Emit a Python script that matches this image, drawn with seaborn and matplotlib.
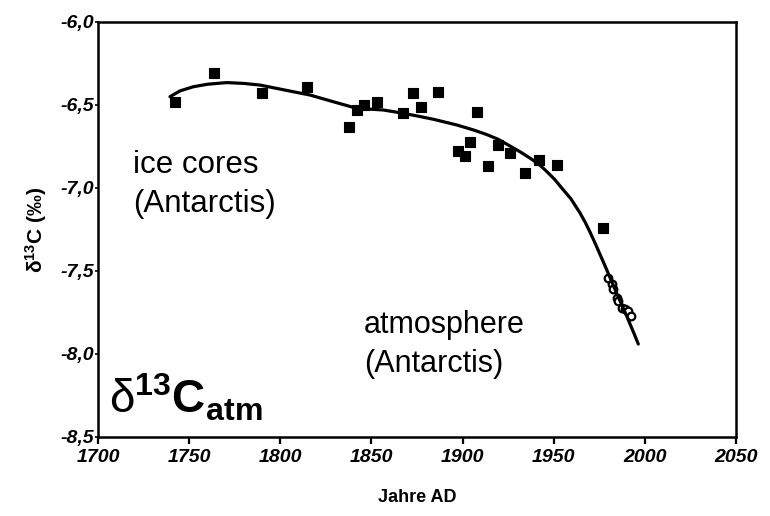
import matplotlib
matplotlib.use("Agg")
import matplotlib.pyplot as plt
import seaborn as sns
import pandas as pd
from matplotlib.ticker import FixedLocator, FixedFormatter

# Ice-core measurements (Antarctica), year AD and delta-13C in permil
ice_years = [1742.2, 1763.6, 1789.8, 1814.6, 1837.8, 1842.2, 1845.9, 1853.2,
             1867.5, 1873.0, 1877.0, 1886.5, 1897.7, 1901.3, 1904.1, 1908.1,
             1914.1, 1919.6, 1926.0, 1934.2, 1942.1, 1952.0, 1976.8]
ice_d13c = [-6.48, -6.31, -6.43, -6.39, -6.63, -6.53, -6.50, -6.48,
            -6.55, -6.43, -6.51, -6.42, -6.78, -6.81, -6.72, -6.54,
            -6.87, -6.74, -6.79, -6.91, -6.83, -6.86, -7.24]

# Direct atmospheric measurements (Antarctica)
atm_years = [1979.9, 1981.8, 1982.7, 1984.5, 1985.4, 1987.2, 1989.1, 1990.9, 1992.2]
atm_d13c = [-7.54, -7.58, -7.61, -7.66, -7.68, -7.72, -7.73, -7.74, -7.77]

# Smoothed trend curve through both records
fit_years = [1739.5, 1745.0, 1752.3, 1760.0, 1770.6, 1780.0, 1788.9, 1798.0,
             1807.1, 1816.3, 1829.0, 1841.9, 1856.5, 1867.5, 1876.0, 1884.0,
             1896.7, 1905.9, 1913.0, 1919.6, 1926.0, 1932.0, 1937.0, 1942.0,
             1946.1, 1950.5, 1954.4, 1959.5, 1964.4, 1967.2, 1969.9, 1972.6,
             1975.4, 1978.2, 1980.9, 1983.6, 1986.4, 1989.0, 1991.9, 1994.0,
             1996.4]
fit_d13c = [-6.45, -6.415, -6.39, -6.375, -6.365, -6.37, -6.38, -6.40,
            -6.42, -6.44, -6.48, -6.52, -6.53, -6.55, -6.568, -6.586,
            -6.62, -6.65, -6.677, -6.707, -6.747, -6.785, -6.82, -6.858,
            -6.90, -6.948, -7.00, -7.066, -7.15, -7.205, -7.265, -7.33,
            -7.40, -7.47, -7.54, -7.61, -7.68, -7.745, -7.82, -7.875,
            -7.94]

x_ticks = [1700, 1750, 1800, 1850, 1900, 1950, 2000, 2050]
x_tick_labels = ["1700", "1750", "1800", "1850", "1900", "1950", "2000", "2050"]
y_ticks = [-6.0, -6.5, -7.0, -7.5, -8.0, -8.5]
y_tick_labels = ["-6,0", "-6,5", "-7,0", "-7,5", "-8,0", "-8,5"]

sns.set_theme(style="white")
plt.rcParams["font.family"] = ["Liberation Sans", "DejaVu Sans"]
plt.rcParams["mathtext.fontset"] = "custom"
plt.rcParams["mathtext.rm"] = "Liberation Sans"
plt.rcParams["mathtext.it"] = "Liberation Sans:italic"
plt.rcParams["mathtext.bf"] = "Liberation Sans:bold"

ice = pd.DataFrame({"year": ice_years, "d13c": ice_d13c})
atm = pd.DataFrame({"year": atm_years, "d13c": atm_d13c})
fit = pd.DataFrame({"year": fit_years, "d13c": fit_d13c})

fig = plt.figure(figsize=(7.7, 5.16), dpi=100)
ax = fig.add_axes([98 / 770, 1 - 437 / 516, (736 - 98) / 770, (437 - 22) / 516])

sns.lineplot(data=fit, x="year", y="d13c", ax=ax, color="black", lw=2.3,
             sort=False, estimator=None)
sns.scatterplot(data=ice, x="year", y="d13c", ax=ax, marker="s", s=48,
                color="black", edgecolor="black", linewidth=0.8)
sns.scatterplot(data=atm, x="year", y="d13c", ax=ax, marker="o", s=30,
                facecolor="white", edgecolor="black", linewidth=1.6)

ax.set_xlim(1700, 2050)
ax.set_ylim(-8.5, -6.0)
ax.xaxis.set_major_locator(FixedLocator(x_ticks))
ax.xaxis.set_major_formatter(FixedFormatter(x_tick_labels))
ax.yaxis.set_major_locator(FixedLocator(y_ticks))
ax.yaxis.set_major_formatter(FixedFormatter(y_tick_labels))

for side in ["left", "right", "top", "bottom"]:
    ax.spines[side].set_visible(True)
    ax.spines[side].set_color("black")
    ax.spines[side].set_linewidth(1.8)

ax.tick_params(axis="x", direction="out", length=5, width=1.6, color="black",
               bottom=True, pad=4)
ax.tick_params(axis="y", direction="out", length=2, width=1.2, color="black",
               left=True, pad=1)
for lab in ax.get_xticklabels() + ax.get_yticklabels():
    lab.set_fontsize(14)
    lab.set_fontweight("bold")
    lab.set_fontstyle("italic")
    lab.set_color("black")

ax.set_xlabel("Jahre AD", fontsize=13, fontweight="bold", color="black", labelpad=16)
ax.set_ylabel(r"δ$^{\mathbf{13}}$C (‰)", fontsize=15, fontweight="bold",
              color="black", labelpad=8)

# Panel annotations
ax.text(1719.2, -6.91, "ice cores", fontsize=22.5, color="black",
        ha="left", va="baseline")
ax.text(1719.2, -7.145, "(Antarctis)", fontsize=22.5, color="black",
        ha="left", va="baseline")
ax.text(1846.0, -7.873, "atmosphere", fontsize=22, color="black",
        ha="left", va="baseline")
ax.text(1846.0, -8.108, "(Antarctis)", fontsize=22, color="black",
        ha="left", va="baseline")
ax.text(1706, -8.36, r"δ$^{\mathbf{13}}$$\mathbf{C}_{\mathbf{atm}}$",
        fontsize=33, color="black", ha="left", va="baseline", fontweight="normal")

fig.savefig("out.png", dpi=100)
